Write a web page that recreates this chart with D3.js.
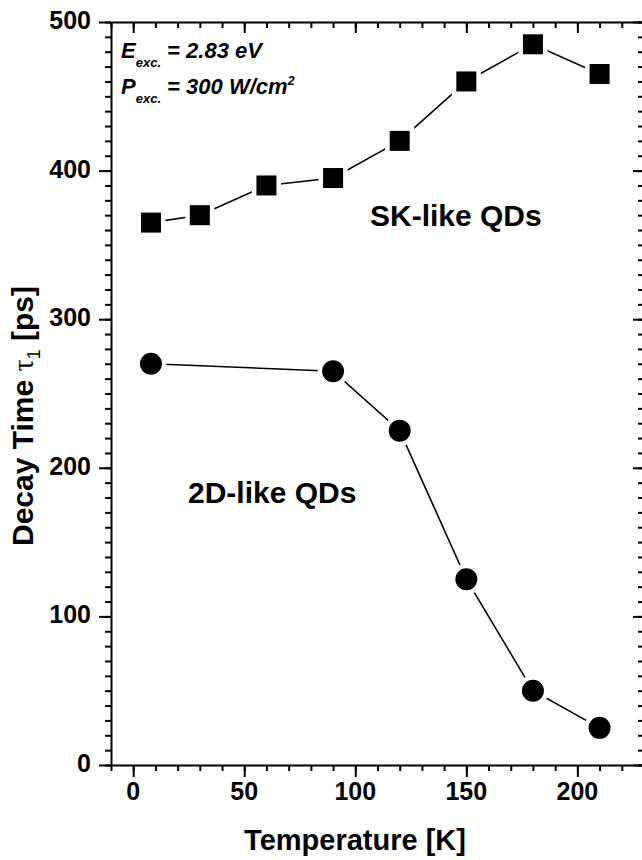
<!DOCTYPE html>
<html>
<head>
<meta charset="utf-8">
<script src="https://cdn.jsdelivr.net/npm/d3@7"></script>
<style>
  html, body { margin: 0; padding: 0; background: #fff; }
  svg { display: block; }
  text { font-family: "Liberation Sans", Arial, sans-serif; font-weight: bold; fill: #000; }
</style>
</head>
<body>
<svg id="chart" width="642" height="860"></svg>
<script>
// ---- data ----
const tempSK = [8, 30, 60, 90, 120, 150, 180, 210];
const tauSK  = [365, 370, 390, 395, 420, 460, 485, 465];
const temp2D = [8, 90, 120, 150, 180, 210];
const tau2D  = [270, 265, 225, 125, 50, 25];
const xTicks = [0, 50, 100, 150, 200];
const yTicks = [0, 100, 200, 300, 400, 500];

const svg = d3.select("#chart");
svg.append("rect").attr("width", 642).attr("height", 860).attr("fill", "#fff");

const x = d3.scaleLinear().domain([-10, 230]).range([111, 644]);
const y = d3.scaleLinear().domain([0, 500]).range([765, 22]);

const xMinor = d3.range(-10, 231, 10);
const yMinor = d3.range(0, 501, 10);

// ---- axes ----
function styleAxis(g) {
  g.select(".domain").attr("stroke", "#000").attr("stroke-width", 2);
  g.selectAll(".tick line").attr("stroke", "#000").attr("stroke-width", 2);
}
function majors(g) {
  g.select(".domain").remove();
  g.selectAll(".tick line").attr("stroke", "#000").attr("stroke-width", 2);
}
// bottom (outward)
const gB = svg.append("g").attr("transform", `translate(0,${y(0)})`);
gB.call(d3.axisBottom(x).tickValues(xMinor).tickSize(6).tickFormat("").tickSizeOuter(0)).call(styleAxis);
gB.append("g").call(d3.axisBottom(x).tickValues(xTicks).tickSize(12).tickFormat("").tickSizeOuter(0)).call(majors);
// top (inward)
const gT = svg.append("g").attr("transform", `translate(0,${y(500)})`);
gT.call(d3.axisBottom(x).tickValues(xMinor).tickSize(6).tickFormat("").tickSizeOuter(0)).call(styleAxis);
gT.append("g").call(d3.axisBottom(x).tickValues(xTicks).tickSize(11).tickFormat("").tickSizeOuter(0)).call(majors);
// left (outward)
const gL = svg.append("g").attr("transform", `translate(${x(-10)},0)`);
gL.call(d3.axisLeft(y).tickValues(yMinor).tickSize(6).tickFormat("").tickSizeOuter(0)).call(styleAxis);
gL.append("g").call(d3.axisLeft(y).tickValues(yTicks).tickSize(12).tickFormat("").tickSizeOuter(0)).call(majors);
// right (inward)
const gR = svg.append("g").attr("transform", `translate(${x(230)},0)`);
gR.call(d3.axisLeft(y).tickValues(yMinor).tickSize(6).tickFormat("").tickSizeOuter(0)).call(styleAxis);
gR.append("g").call(d3.axisLeft(y).tickValues(yTicks).tickSize(11).tickFormat("").tickSizeOuter(0)).call(majors);

// tick labels
svg.append("g").selectAll("text").data(xTicks).join("text")
  .attr("x", d => x(d)).attr("y", 800).attr("text-anchor", "middle")
  .attr("font-size", 25).text(d => d);
svg.append("g").selectAll("text").data(yTicks).join("text")
  .attr("x", 91).attr("y", d => y(d) + 7).attr("text-anchor", "end")
  .attr("font-size", 25).text(d => d);

// axis titles
svg.append("text").attr("x", 355).attr("y", 850).attr("text-anchor", "middle")
  .attr("font-size", 29).text("Temperature [K]");
const yl = svg.append("text").attr("transform", "translate(33,416) rotate(-90)")
  .attr("text-anchor", "middle").attr("font-size", 30);
yl.append("tspan").text("Decay Time ");
yl.append("tspan").attr("font-family", "'Liberation Serif', serif").attr("font-weight", "normal").text("τ");
yl.append("tspan").attr("font-size", 18).attr("dy", 7).attr("font-weight", "normal").text("1");
yl.append("tspan").attr("dy", -7).text(" [ps]");

// ---- series ----
const line = d3.line().x(d => x(d[0])).y(d => y(d[1]));
const sk = tempSK.map((t, i) => [t, tauSK[i]]);
const td = temp2D.map((t, i) => [t, tau2D[i]]);

svg.append("path").datum(sk).attr("d", line).attr("fill", "none").attr("stroke", "#000").attr("stroke-width", 1.6);
svg.append("path").datum(td).attr("d", line).attr("fill", "none").attr("stroke", "#000").attr("stroke-width", 1.6);

const sq = 20, halo = 9;
// halos (gaps between line and markers)
svg.append("g").selectAll("rect").data(sk).join("rect")
  .attr("x", d => x(d[0]) - (sq + halo) / 2).attr("y", d => y(d[1]) - (sq + halo) / 2)
  .attr("width", sq + halo).attr("height", sq + halo).attr("fill", "#fff");
svg.append("g").selectAll("circle").data(td).join("circle")
  .attr("cx", d => x(d[0])).attr("cy", d => y(d[1])).attr("r", 11 + halo / 2).attr("fill", "#fff");
// markers
svg.append("g").selectAll("rect").data(sk).join("rect")
  .attr("x", d => x(d[0]) - sq / 2).attr("y", d => y(d[1]) - sq / 2)
  .attr("width", sq).attr("height", sq).attr("fill", "#000");
svg.append("g").selectAll("circle").data(td).join("circle")
  .attr("cx", d => x(d[0])).attr("cy", d => y(d[1])).attr("r", 11).attr("fill", "#000");

// ---- annotations ----
svg.append("text").attr("x", 370).attr("y", 226).attr("font-size", 30).text("SK-like QDs");
svg.append("text").attr("x", 188).attr("y", 503).attr("font-size", 30).text("2D-like QDs");

const a1 = svg.append("text").attr("x", 121).attr("y", 58).attr("font-size", 22).attr("font-style", "italic");
a1.append("tspan").text("E");
a1.append("tspan").attr("font-size", 13).attr("dy", 9).text("exc.");
a1.append("tspan").attr("dy", -9).text(" = 2.83 eV");
const a2 = svg.append("text").attr("x", 121).attr("y", 94).attr("font-size", 22).attr("font-style", "italic");
a2.append("tspan").text("P");
a2.append("tspan").attr("font-size", 13).attr("dy", 9).text("exc.");
a2.append("tspan").attr("dy", -9).text(" = 300 W/cm");
a2.append("tspan").attr("font-size", 13).attr("dy", -9).text("2");
</script>
</body>
</html>
